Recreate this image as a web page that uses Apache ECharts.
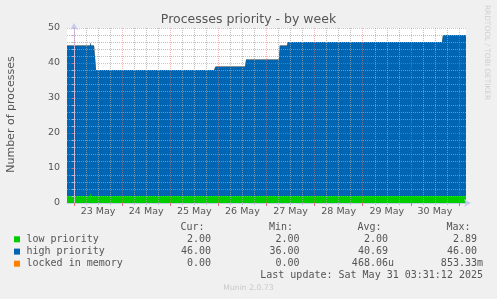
<!DOCTYPE html>
<html><head><meta charset="utf-8">
<script src="https://cdn.jsdelivr.net/npm/echarts@6/dist/echarts.min.js"></script>
<style>html,body{margin:0;padding:0;background:#f0f0f0}#c{width:497px;height:299px}</style>
</head><body><div id="c"></div>
<script>
// ---- data (hours relative to 23 May 00:00) ----
const hours          = [-3.5, 8.0, 8.3, 8.6, 10.0, 11.0, 54.2, 54.5, 54.8, 69.8, 70.6, 85.3, 85.8, 102.2, 102.6, 106.2, 106.6, 183.5, 184.0, 195.5];
const lowPriority    = [2,    2,   2.89, 2,  2,    2,    2,    2.3,  2,    2,    2,    2,    2,    2,     2,     2,     2,     2,     2,     2];
const highPriority   = [43,   43,  43,  43,  43,   36,   36,   36,   36,   36,   37,   37,   39,   39,    43,    43,    44,    44,    46,    46];
const lockedInMemory = [0,    0,   0,   0,   0,    0,    0,    0,    0,    0,    0,    0,    0,    0,     0,     0,     0,     0,     0,     0];
const dayLabels = ['23 May','24 May','25 May','26 May','27 May','28 May','29 May','30 May'];
const seriesNames = ['low priority','high priority','locked in memory'];
const seriesColors = ['#00CC00','#0066B3','#FF8000'];
const statCur = [2.00, 46.00, 0.00];
const statMin = [2.00, 36.00, 0.00];
const statAvg = [2.00, 40.69, 0.00046806];
const statMax = [2.89, 46.00, 0.85333];
const statHeaders = ['Cur:','Min:','Avg:','Max:'];
const titleText = 'Processes priority - by week';
const yAxisName = 'Number of processes';
const lastUpdate = 'Last update: Sat May 31 03:31:12 2025';
const footer = 'Munin 2.0.73';
const sideText = 'RRDTOOL / TOBI OETIKER';
const xStart = -3.5, xEnd = 195.5;

// ---- helpers ----
const slots = [];
for (let i = 0; xStart + i * 0.5 <= xEnd + 1e-9; i++) slots.push(String(xStart + i * 0.5));
const hourOf = i => xStart + i * 0.5;
const mod24 = h => ((h % 24) + 24) % 24;
function fmt(v) {
  if (v === 0) return '0.00 ';
  const a = Math.abs(v);
  if (a < 1e-3) return (v * 1e6).toFixed(2) + 'u';
  if (a < 1) return (v * 1e3).toFixed(2) + 'm';
  return v.toFixed(2) + ' ';
}

const txt = '#555';
const gridGrey = 'rgba(165,165,165,0.7)';
const gridRed = 'rgba(235,110,110,0.5)';
const axisCol = '#c4cdf0';
const mono = '10px "DejaVu Sans Mono"';

const graphics = [];
graphics.push({type:'text', x:248.5, y:19.3, style:{text:titleText, font:'12.5px "DejaVu Sans"', fill:txt, align:'center', verticalAlign:'middle'}});
graphics.push({type:'text', x:11, y:114.5, rotation:Math.PI/2, style:{text:yAxisName, font:'11px "DejaVu Sans"', fill:txt, align:'center', verticalAlign:'middle'}});
graphics.push({type:'text', x:486.7, y:52.5, rotation:-Math.PI/2, style:{text:sideText, font:'7.4px "DejaVu Sans"', fill:'#cfcfcf', align:'center', verticalAlign:'middle'}});
const colEdge = [211, 299.5, 388, 477];
const headY = 227.7, rowY = [239.3, 251.6, 263.7];
statHeaders.forEach((h, k) => graphics.push({type:'text', x:colEdge[k] - 6.5, y:headY, style:{text:h, font:mono, fill:txt, align:'right', verticalAlign:'middle'}}));
const stats = [statCur, statMin, statAvg, statMax];
seriesNames.forEach((n, r) => {
  graphics.push({type:'rect', shape:{x:14, y:rowY[r] - 3, width:6, height:6}, style:{fill:seriesColors[r]}});
  graphics.push({type:'text', x:26.5, y:rowY[r], style:{text:n, font:mono, fill:txt, align:'left', verticalAlign:'middle'}});
  stats.forEach((s, k) => graphics.push({type:'text', x:colEdge[k] + 6, y:rowY[r], style:{text:fmt(s[r]), font:mono, fill:txt, align:'right', verticalAlign:'middle'}}));
});
graphics.push({type:'text', x:483, y:275.3, style:{text:lastUpdate, font:mono, fill:txt, align:'right', verticalAlign:'middle'}});
graphics.push({type:'text', x:248.5, y:287.7, style:{text:footer, font:'7.7px "DejaVu Sans"', fill:'#c8c8c8', align:'center', verticalAlign:'middle'}});

// cumulative (stacked) tops computed from the series arrays
const layers = [lowPriority, highPriority, lockedInMemory];
const cum = [];
layers.forEach((arr, k) => cum.push(arr.map((v, i) => v + (k ? cum[k-1][i] : 0))));

const mkSeries = (idx) => ({
  type:'line', name:seriesNames[idx], xAxisIndex:0, yAxisIndex:0,
  data: hours.map((h, i) => [h, cum[idx][i]]),
  showSymbol:false, symbol:'none', color:seriesColors[idx],
  lineStyle:{width:0, opacity:0}, areaStyle:{color:seriesColors[idx], opacity:1, origin:'start'}, z:2 - idx * 0.1
});

const option = {
  backgroundColor:'#f0f0f0', animation:false,
  grid:{left:67, right:31, top:28, bottom:96, show:true, backgroundColor:'#ffffff', borderWidth:0},
  xAxis:[
    {type:'value', min:xStart, max:xEnd, show:false},
    {type:'category', data:slots, boundaryGap:false, position:'bottom', z:4,
     axisLine:{show:true, symbol:['none','arrow'], symbolSize:[6,7], symbolOffset:[0,5], lineStyle:{color:axisCol, width:1}},
     axisTick:{show:true, length:3, interval:(i)=>mod24(hourOf(i))===0, lineStyle:{color:'#e07070'}},
     splitLine:{show:true, interval:(i)=>mod24(hourOf(i))===0, lineStyle:{color:gridRed, type:[1,1], width:1}},
     axisLabel:{show:true, interval:(i)=>mod24(hourOf(i))===12, margin:4, fontSize:9.5, color:txt, fontFamily:'DejaVu Sans',
       formatter:(v)=>dayLabels[Math.floor(parseFloat(v)/24)] || ''}},
    {type:'category', data:slots, boundaryGap:false, position:'bottom', z:3,
     axisLine:{show:false},
     axisTick:{show:true, length:2, interval:(i)=>{const m=mod24(hourOf(i)); return m%6===0 && m!==0;}, lineStyle:{color:'#bbb'}},
     splitLine:{show:true, interval:(i)=>{const m=mod24(hourOf(i)); return m%6===0 && m!==0;}, lineStyle:{color:gridGrey, type:[1,1], width:1}},
     axisLabel:{show:false}}
  ],
  yAxis:{type:'value', min:0, max:50, interval:10, z:3,
    axisLine:{show:true, symbol:['none','arrow'], symbolSize:[6,7], symbolOffset:[0,5], lineStyle:{color:axisCol, width:1}},
    axisTick:{show:true, length:2, lineStyle:{color:'#e07070'}},
    minorTick:{show:true, splitNumber:5, length:2, lineStyle:{color:'#bbb'}},
    splitLine:{show:true, showMinLine:false, lineStyle:{color:gridRed, type:[1,1], width:1}},
    minorSplitLine:{show:true, lineStyle:{color:gridGrey, type:[1,1], width:1}},
    axisLabel:{margin:7, fontSize:9.5, color:txt, fontFamily:'DejaVu Sans'}},
  series:[mkSeries(2), mkSeries(1), mkSeries(0)],
  graphic:graphics
};
const chart = echarts.init(document.getElementById('c'), null, {renderer:'canvas'});
chart.setOption(option);
</script></body></html>
